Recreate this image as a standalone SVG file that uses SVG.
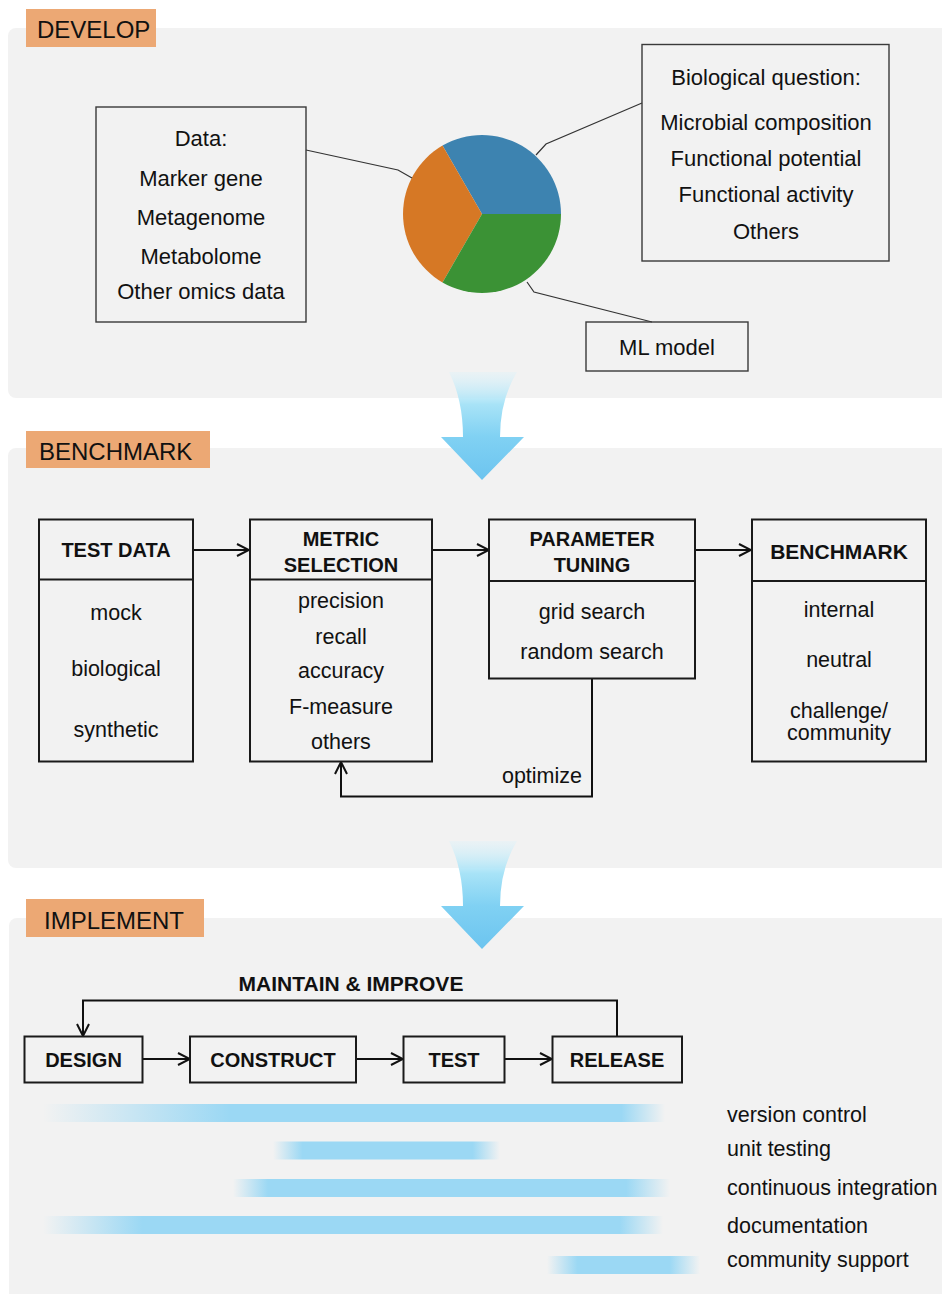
<svg xmlns="http://www.w3.org/2000/svg" width="942" height="1294" viewBox="0 0 942 1294">
<style>
text{font-family:"Liberation Sans",Arial,sans-serif;fill:#111}
.c{text-anchor:middle}
.sec{font-size:24px}
.d{font-size:22px}
.b{font-size:21.5px}
.h{font-size:20px;font-weight:bold}
.panel{fill:#f2f2f2}
.lab{fill:#eca874}
.dbox{fill:none;stroke:#3a3a3a;stroke-width:1.4}
.box{fill:none;stroke:#1a1a1a;stroke-width:2}
.lead{fill:none;stroke:#333;stroke-width:1.2}
.con{fill:none;stroke:#111;stroke-width:2}
</style>
<defs>
<marker id="ah" viewBox="0 0 14 14" refX="13" refY="7" markerWidth="14" markerHeight="14" markerUnits="userSpaceOnUse" orient="auto">
<path d="M1,1 L13,7 L1,13" fill="none" stroke="#111" stroke-width="2"/>
</marker>
<linearGradient id="big" x1="0" y1="0" x2="0" y2="1">
<stop offset="0" stop-color="#d8f2fb" stop-opacity="0.3"/>
<stop offset="0.3" stop-color="#a8e3f7"/>
<stop offset="0.6" stop-color="#80d1f3"/>
<stop offset="1" stop-color="#6cc4ef"/>
</linearGradient>
<linearGradient id="g1" x1="0" y1="0" x2="1" y2="0">
<stop offset="0" stop-color="#9bd8f4" stop-opacity="0"/><stop offset="0.3" stop-color="#9bd8f4"/><stop offset="0.93" stop-color="#9bd8f4"/><stop offset="1" stop-color="#9bd8f4" stop-opacity="0"/>
</linearGradient>
<linearGradient id="g2" x1="0" y1="0" x2="1" y2="0">
<stop offset="0" stop-color="#9bd8f4" stop-opacity="0"/><stop offset="0.13" stop-color="#9bd8f4"/><stop offset="0.88" stop-color="#9bd8f4"/><stop offset="1" stop-color="#9bd8f4" stop-opacity="0"/>
</linearGradient>
<linearGradient id="g3" x1="0" y1="0" x2="1" y2="0">
<stop offset="0" stop-color="#9bd8f4" stop-opacity="0"/><stop offset="0.08" stop-color="#9bd8f4"/><stop offset="0.9" stop-color="#9bd8f4"/><stop offset="1" stop-color="#9bd8f4" stop-opacity="0"/>
</linearGradient>
<linearGradient id="g4" x1="0" y1="0" x2="1" y2="0">
<stop offset="0" stop-color="#9bd8f4" stop-opacity="0"/><stop offset="0.16" stop-color="#9bd8f4"/><stop offset="0.93" stop-color="#9bd8f4"/><stop offset="1" stop-color="#9bd8f4" stop-opacity="0"/>
</linearGradient>
<linearGradient id="g5" x1="0" y1="0" x2="1" y2="0">
<stop offset="0" stop-color="#9bd8f4" stop-opacity="0"/><stop offset="0.2" stop-color="#9bd8f4"/><stop offset="0.8" stop-color="#9bd8f4"/><stop offset="1" stop-color="#9bd8f4" stop-opacity="0"/>
</linearGradient>
<path id="bigarrow" d="M449,372 L517,372 Q500,400 500,437 L524,437 L482,480 L441,437 L463,437 Q463,400 449,372 Z"/>
</defs>
<rect width="942" height="1294" fill="#fff"/>

<g id="panels">
<rect class="panel" x="8" y="28" width="950" height="370" rx="8"/>
<rect class="panel" x="8" y="448" width="950" height="420" rx="8"/>
<rect class="panel" x="9" y="918" width="950" height="390" rx="8"/>
</g>

<g id="section-labels">
<g id="label-develop"><rect class="lab" x="26" y="9" width="130" height="38"/><text class="sec" x="37" y="38">DEVELOP</text></g>
<g id="label-benchmark"><rect class="lab" x="26" y="431" width="184" height="37"/><text class="sec" x="39" y="460">BENCHMARK</text></g>
<g id="label-implement"><rect class="lab" x="26" y="899" width="178" height="38"/><text class="sec" x="44" y="929">IMPLEMENT</text></g>
</g>

<g id="flow-arrows">
<use href="#bigarrow" fill="url(#big)"/>
<use href="#bigarrow" fill="url(#big)" transform="translate(0,469)"/>
</g>

<g id="pie">
<path d="M482,214 L561,214 A79,79 0 0 0 442.5,145.6 Z" fill="#3d83b0"/>
<path d="M482,214 L442.5,145.6 A79,79 0 0 0 442.5,282.4 Z" fill="#d67825"/>
<path d="M482,214 L442.5,282.4 A79,79 0 0 0 561,214 Z" fill="#3b9235"/>
</g>

<g id="connectors">
<polyline class="lead" points="306,150 398,170 412,178"/>
<polyline class="lead" points="642,103 546,144 536,155"/>
<polyline class="lead" points="527,282 534,292 652,322"/>
<line class="con" x1="193" y1="550" x2="249" y2="550" marker-end="url(#ah)"/>
<line class="con" x1="432" y1="550" x2="489" y2="550" marker-end="url(#ah)"/>
<line class="con" x1="695" y1="550" x2="751" y2="550" marker-end="url(#ah)"/>
<polyline class="con" points="592,678 592,796.5 341,796.5 341,762" marker-end="url(#ah)"/>
<line class="con" x1="142" y1="1059" x2="190" y2="1059" marker-end="url(#ah)"/>
<line class="con" x1="356" y1="1059" x2="403" y2="1059" marker-end="url(#ah)"/>
<line class="con" x1="504" y1="1059" x2="552" y2="1059" marker-end="url(#ah)"/>
<polyline class="con" points="617,1036 617,1000.5 83,1000.5 83,1036" marker-end="url(#ah)"/>
</g>

<g id="node-data">
<rect class="dbox" x="96" y="107" width="210" height="215"/>
<text class="d c" x="201" y="146">Data:</text>
<text class="d c" x="201" y="186">Marker gene</text>
<text class="d c" x="201" y="225">Metagenome</text>
<text class="d c" x="201" y="264">Metabolome</text>
<text class="d c" x="201" y="299">Other omics data</text>
</g>
<g id="node-question">
<rect class="dbox" x="642" y="44.5" width="247" height="216.5"/>
<text class="d c" x="766" y="85">Biological question:</text>
<text class="d c" x="766" y="130">Microbial composition</text>
<text class="d c" x="766" y="166">Functional potential</text>
<text class="d c" x="766" y="202">Functional activity</text>
<text class="d c" x="766" y="239">Others</text>
</g>
<g id="node-ml">
<rect class="dbox" x="586" y="322" width="162" height="49"/>
<text class="d c" x="667" y="355">ML model</text>
</g>

<g id="node-testdata">
<rect class="box" x="39" y="519.5" width="154" height="242"/>
<line class="box" x1="39" y1="579.5" x2="193" y2="579.5"/>
<text class="h c" x="116" y="557">TEST DATA</text>
<text class="b c" x="116" y="620">mock</text>
<text class="b c" x="116" y="676">biological</text>
<text class="b c" x="116" y="737">synthetic</text>
</g>
<g id="node-metric">
<rect class="box" x="250" y="519.5" width="182" height="242"/>
<line class="box" x1="250" y1="579.5" x2="432" y2="579.5"/>
<text class="h c" x="341" y="545.5">METRIC</text>
<text class="h c" x="341" y="572">SELECTION</text>
<text class="b c" x="341" y="608">precision</text>
<text class="b c" x="341" y="644">recall</text>
<text class="b c" x="341" y="678">accuracy</text>
<text class="b c" x="341" y="714">F-measure</text>
<text class="b c" x="341" y="749">others</text>
</g>
<g id="node-param">
<rect class="box" x="489" y="519.5" width="206" height="159"/>
<line class="box" x1="489" y1="581" x2="695" y2="581"/>
<text class="h c" x="592" y="545.5">PARAMETER</text>
<text class="h c" x="592" y="572">TUNING</text>
<text class="b c" x="592" y="619">grid search</text>
<text class="b c" x="592" y="659">random search</text>
</g>
<g id="node-benchmark">
<rect class="box" x="752" y="519.5" width="174" height="242"/>
<line class="box" x1="752" y1="581" x2="926" y2="581"/>
<text class="h c" x="839" y="559" style="font-size:21px">BENCHMARK</text>
<text class="b c" x="839" y="617">internal</text>
<text class="b c" x="839" y="667">neutral</text>
<text class="b c" x="839" y="718">challenge/</text>
<text class="b c" x="839" y="740">community</text>
</g>
<text id="label-optimize" class="b" x="582" y="783" text-anchor="end">optimize</text>

<text id="label-maintain" class="h" x="351" y="991" text-anchor="middle" style="font-size:21px">MAINTAIN &amp; IMPROVE</text>
<g id="node-design">
<rect class="box" x="24.5" y="1036.5" width="118" height="46"/>
<text class="h c" x="83.5" y="1067">DESIGN</text>
</g>
<g id="node-construct">
<rect class="box" x="190" y="1036.5" width="166" height="46"/>
<text class="h c" x="273" y="1067">CONSTRUCT</text>
</g>
<g id="node-test">
<rect class="box" x="403.5" y="1036.5" width="101" height="46"/>
<text class="h c" x="454" y="1067">TEST</text>
</g>
<g id="node-release">
<rect class="box" x="552.5" y="1036.5" width="129.5" height="46"/>
<text class="h c" x="617" y="1067">RELEASE</text>
</g>

<g id="practice-bars">
<rect x="43" y="1104" width="622" height="18" fill="url(#g1)"/>
<rect x="273" y="1141.5" width="227" height="18" fill="url(#g2)"/>
<rect x="233" y="1179" width="437" height="18" fill="url(#g3)"/>
<rect x="43" y="1216" width="620" height="18" fill="url(#g4)"/>
<rect x="547" y="1256" width="153" height="18" fill="url(#g5)"/>
</g>
<g id="practice-labels">
<text class="b" x="727" y="1122">version control</text>
<text class="b" x="727" y="1156">unit testing</text>
<text class="b" x="727" y="1195">continuous integration</text>
<text class="b" x="727" y="1233">documentation</text>
<text class="b" x="727" y="1267">community support</text>
</g>
</svg>
